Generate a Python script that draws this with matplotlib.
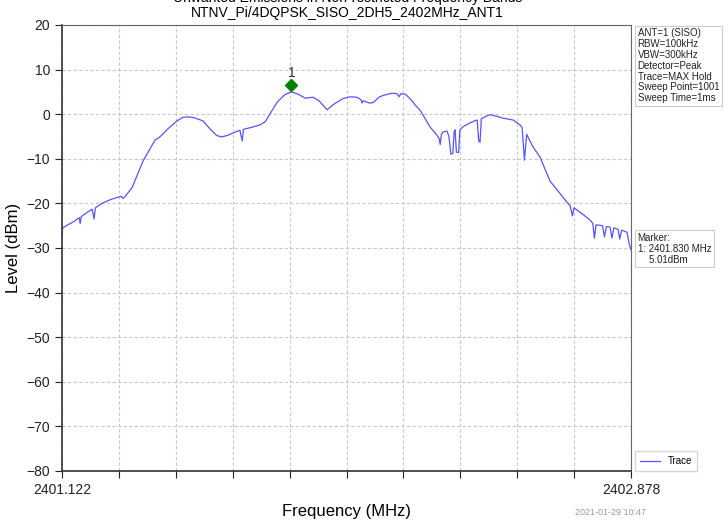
import matplotlib
matplotlib.use("Agg")
import matplotlib.pyplot as plt
import matplotlib.transforms as mtransforms
import numpy as np

plt.rcParams["font.family"] = ["Liberation Sans", "DejaVu Sans"]

# trace (MHz, dBm)
freq = [2401.122, 2401.124, 2401.140, 2401.160, 2401.175, 2401.178, 2401.181,
        2401.200, 2401.215, 2401.221, 2401.225, 2401.245, 2401.270, 2401.295,
        2401.305, 2401.310, 2401.316, 2401.338, 2401.372, 2401.409, 2401.424,
        2401.450, 2401.477, 2401.495, 2401.511, 2401.530, 2401.557, 2401.575,
        2401.588, 2401.600, 2401.615, 2401.635, 2401.650, 2401.671, 2401.678,
        2401.682, 2401.710, 2401.733, 2401.749, 2401.770, 2401.786, 2401.810,
        2401.829, 2401.850, 2401.872, 2401.897, 2401.915, 2401.940, 2401.960,
        2401.989, 2402.011, 2402.032, 2402.045, 2402.048, 2402.052, 2402.070,
        2402.082, 2402.100, 2402.113, 2402.140, 2402.156, 2402.162, 2402.168,
        2402.181, 2402.196, 2402.215, 2402.227, 2402.258, 2402.279, 2402.286,
        2402.289, 2402.293, 2402.298, 2402.310, 2402.316, 2402.322, 2402.328,
        2402.332, 2402.335, 2402.339, 2402.346, 2402.350, 2402.360, 2402.380,
        2402.395, 2402.403, 2402.408, 2402.412, 2402.416, 2402.421, 2402.443,
        2402.465, 2402.483, 2402.514, 2402.535, 2402.542, 2402.549, 2402.556,
        2402.566, 2402.576, 2402.597, 2402.628, 2402.659, 2402.681, 2402.690,
        2402.697, 2402.702, 2402.730, 2402.751, 2402.760, 2402.765, 2402.770,
        2402.790, 2402.796, 2402.802, 2402.813, 2402.819, 2402.825, 2402.838,
        2402.843, 2402.849, 2402.866, 2402.872, 2402.878]
level = [-27.0, -25.5, -24.8, -24.0, -23.2, -24.5, -23.0,
         -22.0, -21.3, -23.5, -21.0, -20.0, -19.2, -18.6,
         -18.4, -18.9, -18.5, -16.5, -10.5, -5.8, -5.1,
         -3.2, -1.5, -0.7, -0.6, -0.8, -1.5, -3.0,
         -4.0, -4.8, -5.1, -4.7, -4.2, -3.6, -6.0,
         -3.4, -2.9, -2.4, -1.7, 0.8, 2.7, 4.4,
         5.0, 4.5, 3.6, 3.8, 3.0, 1.0, 2.2,
         3.5, 3.9, 3.8, 3.2, 2.5, 3.0, 2.5,
         2.6, 3.8, 4.2, 4.7, 4.6, 3.9, 4.6,
         4.5, 3.5, 1.8, 0.9, -2.9, -4.7, -5.5,
         -6.8, -4.5, -4.0, -3.8, -5.0, -9.0, -8.8,
         -4.0, -3.5, -8.5, -8.6, -3.5, -2.8, -2.0,
         -1.5, -1.3, -6.0, -6.3, -1.0, -0.8, -0.1,
         -0.5, -0.9, -1.3, -2.4, -3.0, -10.3, -4.5,
         -6.0, -7.4, -9.6, -15.0, -17.8, -19.8, -20.5,
         -22.8, -21.0, -22.5, -23.7, -24.5, -27.8, -24.8,
         -25.0, -27.5, -25.2, -25.3, -27.8, -25.5, -25.8,
         -28.0, -26.0, -26.5, -29.0, -30.4]

f_start, f_stop = 2401.122, 2402.878
marker_freq, marker_level = 2401.830, 5.01
info_lines = ["ANT=1 (SISO)", "RBW=100kHz", "VBW=300kHz", "Detector=Peak",
              "Trace=MAX Hold", "Sweep Point=1001", "Sweep Time=1ms"]
marker_lines = ["Marker:", "1: 2401.830 MHz", "    5.01dBm"]

fig = plt.figure(figsize=(7.28, 5.27), dpi=100)
ax = fig.add_axes([0.0852, 0.1063, 0.7816, 0.8463])

line, = ax.plot(freq, level, color="#5555ff", lw=0.9, label="Trace")

# marker drawn a few points above the trace like the analyzer does
off = mtransforms.offset_copy(ax.transData, fig=fig, x=0, y=5, units="points")
ax.plot([marker_freq], [marker_level], marker="D", color="green", ms=6,
        transform=off)
ax.text(marker_freq, marker_level + 2.6, "1", ha="center", va="bottom",
        fontsize=10, color="#333333")

ax.set_xlim(f_start, f_stop)
ax.set_ylim(-80, 20)
ax.set_yticks(np.arange(-80, 21, 10))
xt = np.linspace(f_start, f_stop, 11)
ax.set_xticks(xt)
ax.set_xticklabels(["2401.122"] + [""] * 9 + ["2402.878"])
ax.tick_params(axis="both", direction="out", length=5, labelsize=10,
               colors="#222222")
ax.grid(True, color="#c8c8c8", linestyle=(0, (3, 2)), lw=0.8)
for s in ["top", "right"]:
    ax.spines[s].set_color("#666666")
for s in ["left", "bottom"]:
    ax.spines[s].set_color("#333333")
    ax.spines[s].set_linewidth(1.2)

ax.set_xlabel("Frequency (MHz)", fontsize=12, labelpad=5)
ax.set_ylabel("Level (dBm)", fontsize=12, labelpad=4)

fig.text(0.477, 1.003, "Unwanted Emissions in Non-restricted Frequency Bands",
         ha="center", va="center", fontsize=10)
fig.text(0.477, 0.976, "NTNV_Pi/4DQPSK_SISO_2DH5_2402MHz_ANT1",
         ha="center", va="center", fontsize=10)

box = dict(boxstyle="square,pad=0.3", fc="white", ec="#cccccc", lw=0.8)
fig.text(0.876, 0.946, "\n".join(info_lines), ha="left", va="top",
         fontsize=7, linespacing=1.1, bbox=box, color="#222222")
fig.text(0.876, 0.558, "\n".join(marker_lines), ha="left", va="top",
         fontsize=7, linespacing=1.1, bbox=box, color="#222222")

fig.legend(handles=[line], loc="lower left", bbox_to_anchor=(0.866, 0.097),
           fontsize=7, frameon=True, handlelength=2.0, borderpad=0.5,
           edgecolor="#cccccc", fancybox=False)

fig.text(0.79, 0.028, "2021-01-29 10:47", ha="left", va="center",
         fontsize=6.5, color="#999999")

fig.savefig("out.png", dpi=100)
